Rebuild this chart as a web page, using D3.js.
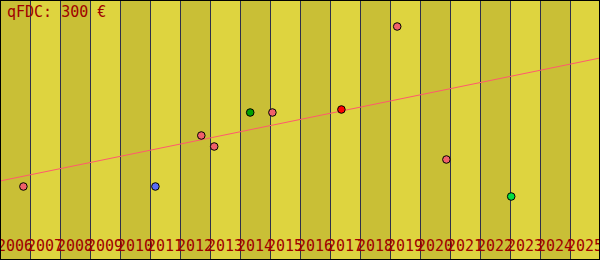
<!DOCTYPE html>
<html>
<head>
<meta charset="utf-8">
<script src="https://cdn.jsdelivr.net/npm/d3@7"></script>
<style>
  html, body { margin: 0; padding: 0; background: #ffffff; }
  svg { display: block; }
</style>
</head>
<body>
<svg id="chart" width="600" height="260"></svg>
<script>
// ---- data ----
const yearLabels = ["2006","2007","2008","2009","2010","2011","2012","2013","2014","2015",
                    "2016","2017","2018","2019","2020","2021","2022","2023","2024","2025"];
const pointYears  = [2006.78, 2011.18, 2012.71, 2013.14, 2014.34, 2015.08, 2017.38, 2019.24, 2020.88, 2023.04];
const pointValues = [147, 147, 249, 227, 295, 295, 301, 467, 201, 127];
const pointColors = ["#f0606a", "#5a6cf5", "#f0606a", "#f0606a", "#00a000", "#f0606a", "#ff0000", "#f0606a", "#f0606a", "#00e040"];
const trendYears  = [2006, 2026];
const trendValues = [158, 404];
const titleText = "qFDC: 300 €";

// ---- setup ----
const W = 600, H = 260;
const svg = d3.select("#chart");
const x = d3.scaleLinear().domain([2006, 2026]).range([0, W]);
const y = d3.scaleLinear().domain([0, 520]).range([H, 0]);
const band = d3.scaleBand().domain(yearLabels).range([0, W]).padding(0);

// bands
svg.append("g").selectAll("rect").data(yearLabels).join("rect")
  .attr("x", d => band(d))
  .attr("y", 0)
  .attr("width", band.bandwidth())
  .attr("height", H)
  .attr("fill", (d, i) => i % 2 === 0 ? "#c9bf36" : "#ded43f");

// separator lines
svg.append("g").selectAll("line").data(yearLabels.slice(1)).join("line")
  .attr("x1", d => Math.round(band(d)) + 0.5)
  .attr("x2", d => Math.round(band(d)) + 0.5)
  .attr("y1", 0).attr("y2", H)
  .attr("stroke", "#30304a").attr("stroke-width", 1);

// trend line
const trend = trendYears.map((t, i) => [t, trendValues[i]]);
svg.append("path")
  .datum(trend)
  .attr("d", d3.line().x(d => x(d[0])).y(d => y(d[1])))
  .attr("fill", "none")
  .attr("stroke", "#ff5a6e")
  .attr("stroke-width", 1);

// points
const pts = pointYears.map((t, i) => ({ t, v: pointValues[i], c: pointColors[i] }));
svg.append("g").selectAll("circle").data(pts).join("circle")
  .attr("cx", d => x(d.t))
  .attr("cy", d => y(d.v))
  .attr("r", 3.8)
  .attr("fill", d => d.c)
  .attr("stroke", "#000")
  .attr("stroke-width", 1);

// year labels
svg.append("g").selectAll("text").data(yearLabels).join("text")
  .attr("x", d => band(d) + band.bandwidth() / 2)
  .attr("y", 251)
  .attr("text-anchor", "middle")
  .attr("font-family", "DejaVu Sans Mono, monospace")
  .attr("font-size", 15)
  .attr("fill", "#a00000")
  .text(d => d);

// title
svg.append("text")
  .attr("x", 7).attr("y", 17)
  .attr("font-family", "DejaVu Sans Mono, monospace")
  .attr("font-size", 15)
  .attr("fill", "#a00000")
  .text(titleText);

// border
svg.append("rect")
  .attr("x", 0.5).attr("y", 0.5)
  .attr("width", W - 1).attr("height", H - 1)
  .attr("fill", "none").attr("stroke", "#000").attr("stroke-width", 1);
</script>
</body>
</html>
